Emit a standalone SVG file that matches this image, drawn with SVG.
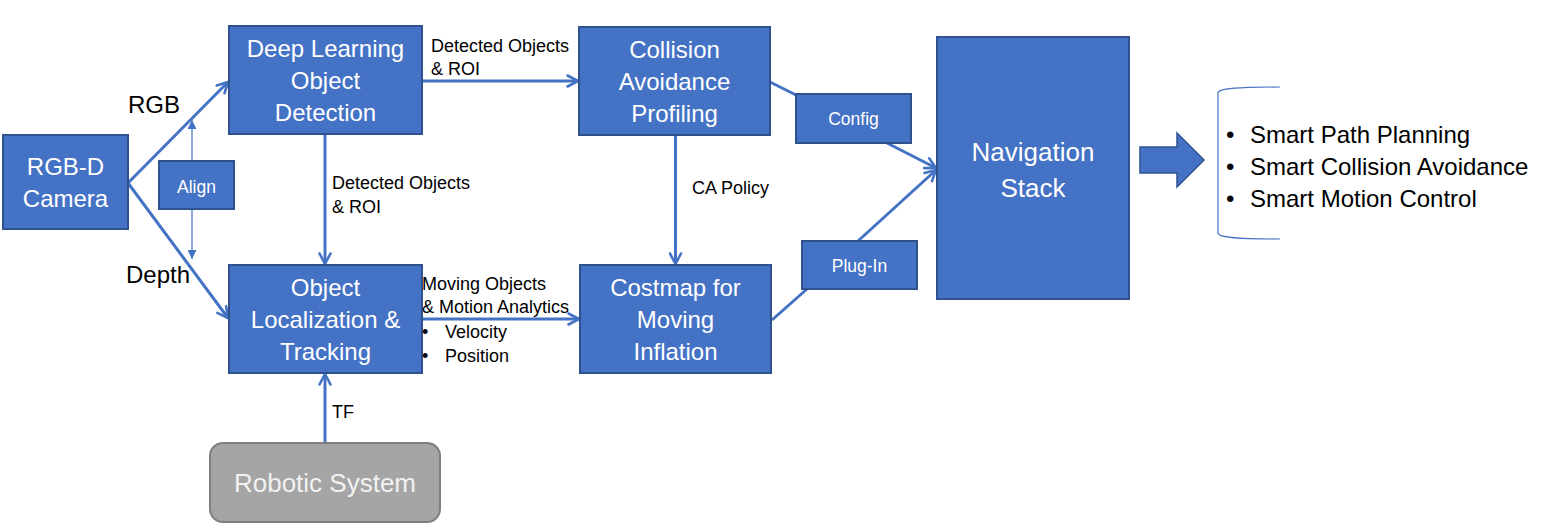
<svg xmlns="http://www.w3.org/2000/svg" width="1543" height="530" viewBox="0 0 1543 530">
<style>
.box{fill:#4472C4;stroke:#2F528F;stroke-width:2}
.gray{fill:#A5A5A5;stroke:#7F7F7F;stroke-width:2}
.bt{font-family:"Liberation Sans",Arial,sans-serif;font-size:24px;fill:#FFFFFF;text-anchor:middle}
.st{font-family:"Liberation Sans",Arial,sans-serif;font-size:17.5px;fill:#FFFFFF;text-anchor:middle}
.lbl{font-family:"Liberation Sans",Arial,sans-serif;font-size:18px;fill:#000000}
.big{font-family:"Liberation Sans",Arial,sans-serif;font-size:24px;fill:#000000}
.ln{fill:none;stroke:#4472C4;stroke-width:3}
.thin{fill:none;stroke:#4472C4;stroke-width:1.2}
</style>
<defs>
<marker id="arr" viewBox="0 0 14 14" refX="12.5" refY="7" markerWidth="14" markerHeight="14" markerUnits="userSpaceOnUse" orient="auto">
<path d="M2,1.5 L12.5,7 L2,12.5" fill="none" stroke="#4472C4" stroke-width="2.6" stroke-linecap="round" stroke-linejoin="round"/>
</marker>
<marker id="sarr" viewBox="0 0 10 10" refX="10" refY="5" markerWidth="9" markerHeight="9" markerUnits="userSpaceOnUse" orient="auto">
<path d="M0,0 L10,5 L0,10 Z" fill="#4472C4"/>
</marker>
</defs>
<rect width="1543" height="530" fill="#FFFFFF"/>

<g id="connectors">
<line class="ln" x1="128" y1="183" x2="228" y2="82" marker-end="url(#arr)"/>
<line class="ln" x1="128" y1="183" x2="228" y2="318" marker-end="url(#arr)"/>
<line class="thin" x1="192" y1="161" x2="192" y2="120" marker-end="url(#sarr)"/>
<line class="thin" x1="192" y1="209" x2="192" y2="259" marker-end="url(#sarr)"/>
<line class="ln" x1="422" y1="81" x2="578" y2="81" marker-end="url(#arr)"/>
<line class="ln" x1="325" y1="135" x2="325" y2="264" marker-end="url(#arr)"/>
<line class="ln" x1="675.5" y1="136" x2="675.5" y2="264" marker-end="url(#arr)"/>
<line class="ln" x1="422" y1="319" x2="579" y2="319" marker-end="url(#arr)"/>
<line class="ln" x1="325" y1="443" x2="325" y2="374" marker-end="url(#arr)"/>
<line class="ln" x1="770" y1="82" x2="796" y2="95"/>
<line class="ln" x1="887" y1="143" x2="936" y2="168" marker-end="url(#arr)"/>
<line class="ln" x1="772" y1="320" x2="807" y2="289"/>
<line class="ln" x1="858" y1="241" x2="936" y2="170" marker-end="url(#arr)"/>
</g>

<g id="labels">
<text class="big" x="154" y="113" text-anchor="middle">RGB</text>
<text class="big" x="158" y="283" text-anchor="middle">Depth</text>
<text class="lbl" x="431" y="52">Detected Objects</text>
<text class="lbl" x="431" y="75">&amp; ROI</text>
<text class="lbl" x="332" y="189">Detected Objects</text>
<text class="lbl" x="332" y="213">&amp; ROI</text>
<text class="lbl" x="692" y="194">CA Policy</text>
<text class="lbl" x="422" y="290">Moving Objects</text>
<text class="lbl" x="422" y="313">&amp; Motion Analytics</text>
<text class="lbl" x="422" y="338">•</text>
<text class="lbl" x="445" y="338">Velocity</text>
<text class="lbl" x="422" y="362">•</text>
<text class="lbl" x="445" y="362">Position</text>
<text class="lbl" x="332" y="418">TF</text>
</g>

<g id="camera">
<rect class="box" x="3" y="135" width="125" height="94"/>
<text class="bt" x="65.5" y="175">RGB-D</text>
<text class="bt" x="65.5" y="207">Camera</text>
</g>

<g id="align">
<rect class="box" x="159" y="161" width="75" height="48"/>
<text class="st" x="196.5" y="193">Align</text>
</g>

<g id="detection">
<rect class="box" x="229" y="26" width="193" height="108"/>
<text class="bt" x="325.5" y="57">Deep Learning</text>
<text class="bt" x="325.5" y="89">Object</text>
<text class="bt" x="325.5" y="121">Detection</text>
</g>

<g id="tracking">
<rect class="box" x="229" y="265" width="193" height="108"/>
<text class="bt" x="325.5" y="296">Object</text>
<text class="bt" x="325.5" y="328">Localization &amp;</text>
<text class="bt" x="325.5" y="360">Tracking</text>
</g>

<g id="profiling">
<rect class="box" x="579" y="27" width="191" height="108"/>
<text class="bt" x="674.5" y="58">Collision</text>
<text class="bt" x="674.5" y="90">Avoidance</text>
<text class="bt" x="674.5" y="122">Profiling</text>
</g>

<g id="costmap">
<rect class="box" x="580" y="265" width="191" height="108"/>
<text class="bt" x="675.5" y="296">Costmap for</text>
<text class="bt" x="675.5" y="328">Moving</text>
<text class="bt" x="675.5" y="360">Inflation</text>
</g>

<g id="config">
<rect class="box" x="796" y="94" width="115" height="49"/>
<text class="st" x="853.5" y="125">Config</text>
</g>

<g id="plugin">
<rect class="box" x="802" y="241" width="115" height="48"/>
<text class="st" x="859.5" y="272">Plug-In</text>
</g>

<g id="navigation">
<rect class="box" x="937" y="37" width="192" height="262"/>
<text class="bt" x="1033" y="161" style="font-size:26px">Navigation</text>
<text class="bt" x="1033" y="197" style="font-size:26px">Stack</text>
</g>

<g id="robotic">
<rect class="gray" x="210" y="443" width="230" height="79" rx="13" ry="13"/>
<text class="bt" x="325" y="492" style="font-size:26px;fill:#F2F2F2">Robotic System</text>
</g>

<g id="output-arrow">
<path d="M1140,147 L1177,147 L1177,133 L1204,160 L1177,187 L1177,173 L1140,173 Z" fill="#4472C4" stroke="#2F528F" stroke-width="1.5"/>
</g>

<g id="features">
<path d="M1280,87 C1240,87 1218,88 1218,93 L1218,233 C1218,238 1240,239 1280,239" fill="none" stroke="#4472C4" stroke-width="1.2"/>
<text class="big" x="1226" y="143">•</text>
<text class="big" x="1250" y="143">Smart Path Planning</text>
<text class="big" x="1226" y="175">•</text>
<text class="big" x="1250" y="175">Smart Collision Avoidance</text>
<text class="big" x="1226" y="207">•</text>
<text class="big" x="1250" y="207">Smart Motion Control</text>
</g>
</svg>
